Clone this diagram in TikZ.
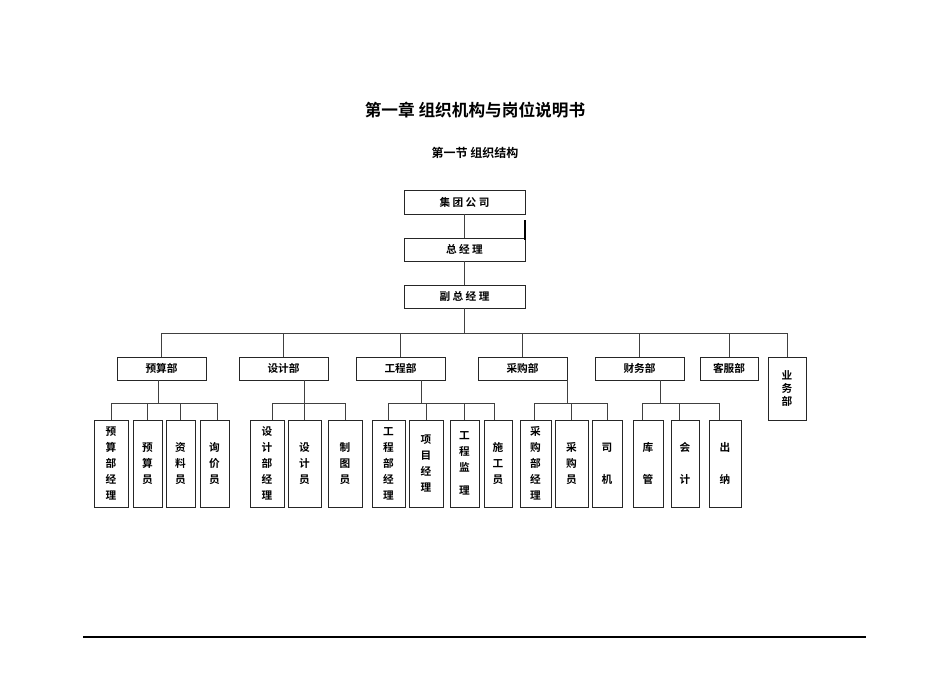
\documentclass[tikz,border=0pt]{standalone}
\usepackage{fontspec}
\newfontfamily\cjk{Noto Sans CJK SC}[BoldFont={* Bold}]
\newcommand\bx[6]{\node[box,minimum width=#4*0.75pt,minimum height=#5*0.75pt] (#1) at (#2,#3) {#6};}
\begin{document}
\begin{tikzpicture}[x=0.75pt,y=-0.75pt,
  box/.style={draw=black!85,line width=0.6pt,inner sep=0pt,align=center,font=\cjk\bfseries\fontsize{8}{12}\selectfont},
  ln/.style={draw=black!75,line width=0.6pt}]
\useasboundingbox (0,0) rectangle (950,672);
\node[font=\cjk\bfseries\fontsize{12.5}{14}\selectfont] (t1) at (475,110) {第一章\ 组织机构与岗位说明书};
\node[font=\cjk\bfseries\fontsize{9}{11}\selectfont] (t2) at (475,153) {第一节\ 组织结构};
\bx{g1}{464.5}{202}{121}{24}{集\ 团\ 公\ 司}
\bx{g2}{464.5}{249.5}{121}{23}{总\ 经\ 理}
\bx{g3}{464.5}{296.5}{121}{23}{副\ 总\ 经\ 理}
\draw[ln] (g1.south) -- (g2.north);
\draw[ln] (g2.south) -- (g3.north);
\coordinate (tick1) at (525,220); \coordinate (tick2) at (525,240);
\draw[black,line width=0.9pt] (tick1) -- (tick2);
% departments
\bx{d1}{161.5}{368.5}{89}{23}{预算部}
\bx{d2}{283.5}{368.5}{89}{23}{设计部}
\bx{d3}{400.5}{368.5}{89}{23}{工程部}
\bx{d4}{522.5}{368.5}{89}{23}{采购部}
\bx{d5}{639.5}{368.5}{89}{23}{财务部}
\bx{d6}{729}{368.5}{58}{23}{客服部}
\node[box,minimum width=38*0.75pt,minimum height=63*0.75pt,font=\cjk\bfseries\fontsize{8}{10}\selectfont] (d7) at (787,388.5) {业\\务\\部};
\coordinate (tb) at (0,333);
\draw[ln] (g3.south) -- (g3.south |- tb);
\draw[ln] (d1.north |- tb) -- (d7.north |- tb);
\foreach \d in {d1,d2,d3,d4,d5,d6,d7} \draw[ln] (\d.north) -- (\d.north |- tb);
% children
\foreach \n/\x/\w/\t in {c11/111/34/{预\\算\\部\\经\\理}, c12/147.5/29/{预\\算\\员}, c13/180.5/29/{资\\料\\员}, c14/214.5/29/{询\\价\\员},
 c21/267/34/{设\\计\\部\\经\\理}, c22/304.5/33/{设\\计\\员}, c23/345/34/{制\\图\\员},
 c31/388.5/33/{工\\程\\部\\经\\理}, c32/426/34/{项\\目\\经\\理}, c33/464.5/29/{工\\程\\监\\[5pt]理}, c34/498/28/{施\\工\\员},
 c41/535.5/31/{采\\购\\部\\经\\理}, c42/571.5/33/{采\\购\\员}, c43/607/30/{司\\[12pt]机},
 c51/648/30/{库\\[12pt]管}, c52/685/28/{会\\[12pt]计}, c53/725/32/{出\\[12pt]纳}}
 \bx{\n}{\x}{463.5}{\w}{87}{\t};
\coordinate (b) at (0,403);
\draw[ln] ([xshift=-2.6pt]d1.south) -- ([xshift=-2.6pt]d1.south |- b);
\draw[ln] (c11.north |- b) -- ([xshift=2pt]c14.north |- b);
\foreach \c in {c11,c12,c13} \draw[ln] (\c.north) -- (\c.north |- b);
\draw[ln] ([xshift=2pt]c14.north) -- ([xshift=2pt]c14.north |- b);
\draw[ln] ([xshift=16pt]d2.south) -- ([xshift=16pt]d2.south |- b);
\draw[ln] ([xshift=4pt]c21.north |- b) -- (c23.north |- b);
\draw[ln] ([xshift=4pt]c21.north) -- ([xshift=4pt]c21.north |- b);
\foreach \c in {c22,c23} \draw[ln] (\c.north) -- (\c.north |- b);
\draw[ln] ([xshift=16pt]d3.south) -- ([xshift=16pt]d3.south |- b);
\draw[ln] (c31.north |- b) -- ([xshift=-3pt]c34.north |- b);
\foreach \c in {c31,c32,c33} \draw[ln] (\c.north) -- (\c.north |- b);
\draw[ln] ([xshift=-3pt]c34.north) -- ([xshift=-3pt]c34.north |- b);
\draw[ln] (d4.south east) -- (d4.south east |- b);
\draw[ln] ([xshift=-1pt]c41.north |- b) -- (c43.north |- b);
\draw[ln] ([xshift=-1pt]c41.north) -- ([xshift=-1pt]c41.north |- b);
\foreach \c in {c42,c43} \draw[ln] (\c.north) -- (\c.north |- b);
\draw[ln] ([xshift=16pt]d5.south) -- ([xshift=16pt]d5.south |- b);
\draw[ln] ([xshift=-4pt]c51.north |- b) -- ([xshift=-4pt]c53.north |- b);
\foreach \c in {c51,c52,c53} \draw[ln] ([xshift=-4pt]\c.north) -- ([xshift=-4pt]\c.north |- b);
% bottom rule
\coordinate (r1) at (83,637); \coordinate (r2) at (866,637);
\draw[black,line width=0.8pt] (r1) -- (r2);
\end{tikzpicture}
\end{document}
